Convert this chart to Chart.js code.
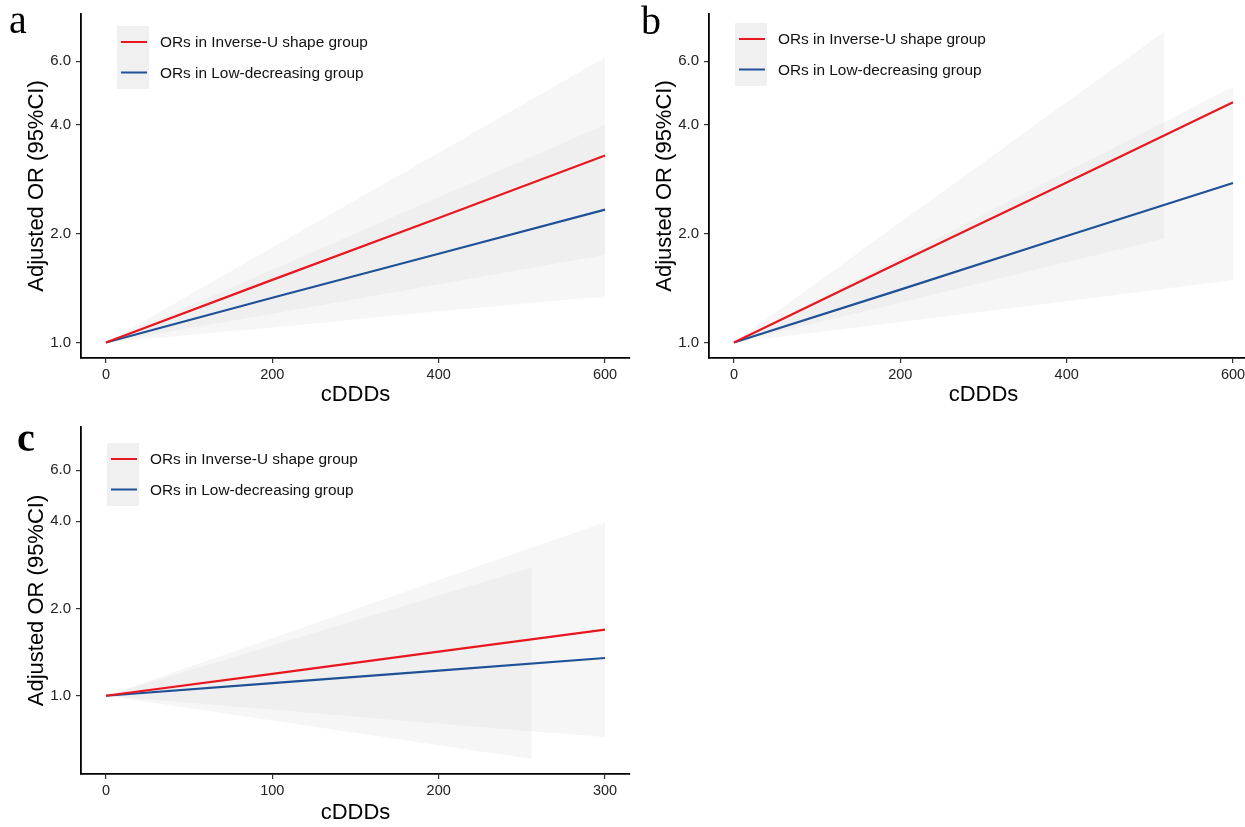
<!DOCTYPE html>
<html>
<head>
<meta charset="utf-8">
<script src="https://cdn.jsdelivr.net/npm/chart.js@4.4.0/dist/chart.umd.min.js"></script>
<style>
  html, body { margin: 0; padding: 0; background: #fff; }
  body { width: 1245px; height: 827px; overflow: hidden; position: relative; }
  canvas { position: absolute; }
  .tag { position: absolute; font-family: 'Liberation Serif', 'Times New Roman', serif; font-size: 40px; line-height: 1; color: #000; }
</style>
</head>
<body>
<canvas id="chartA" width="640" height="410" style="left:0;top:0"></canvas>
<canvas id="chartB" width="640" height="410" style="left:628px;top:0"></canvas>
<canvas id="chartC" width="640" height="417" style="left:0;top:410px"></canvas>
<div class="tag" style="left:9px;top:0px">a</div>
<div class="tag" style="left:641px;top:1px">b</div>
<div class="tag" style="left:17px;top:418px;font-weight:bold">c</div>
<script>
// labels
const redLabel = 'ORs in Inverse-U shape group';
const blueLabel = 'ORs in Low-decreasing group';
const yTicks = [1, 2, 4, 6];

// panel a (cDDDs 0-600)
const xA = [0, 200, 400, 600];
const redA = [1.0, 1.49, 2.21, 3.29];
const redLoA = [1.0, 1.20, 1.45, 1.75];
const redHiA = [1.0, 1.83, 3.35, 6.14];
const blueA = [1.0, 1.33, 1.76, 2.33];
const blueLoA = [1.0, 1.10, 1.22, 1.34];
const blueHiA = [1.0, 1.59, 2.52, 4.0];
const xTicksA = [0, 200, 400, 600];

// panel b (red CI stops at ~517)
const xB = [0, 200, 400, 600];
const redB = [1.0, 1.67, 2.77, 4.62];
const blueB = [1.0, 1.40, 1.97, 2.76];
const xRedBandB = [0, 200, 400, 517];
const redLoB = [1.0, 1.29, 1.67, 1.94];
const redHiB = [1.0, 2.15, 4.62, 7.23];
const blueLoB = [1.0, 1.14, 1.30, 1.49];
const blueHiB = [1.0, 1.72, 2.96, 5.1];
const xTicksB = [0, 200, 400, 600];

// panel c (cDDDs 0-300, blue CI stops at ~256)
const xC = [0, 100, 200, 300];
const redC = [1.0, 1.19, 1.42, 1.69];
const blueC = [1.0, 1.105, 1.22, 1.35];
const redLoC = [1.0, 0.896, 0.80, 0.72];
const redHiC = [1.0, 1.58, 2.51, 3.97];
const xBlueBandC = [0, 100, 200, 256];
const blueLoC = [1.0, 0.822, 0.675, 0.605];
const blueHiC = [1.0, 1.49, 2.22, 2.77];
const xTicksC = [0, 100, 200, 300];

const FONT = "'Liberation Sans', Arial, Helvetica, sans-serif";
const RED = '#e8171f';
const BLUE = '#1f5196';
const BAND = 'rgba(190,190,190,0.14)';

function pts(xs, ys) {
    return xs.map((x, i) => ({ x: x, y: ys[i] }));
}

function lineSet(label, xs, ys, color) {
    return { label: label, data: pts(xs, ys), borderColor: color, borderWidth: 2.2,
        pointRadius: 0, fill: false, tension: 0, order: 0, inLegend: true };
}

function bandSets(label, xs, hi, lo) {
    const base = { borderColor: 'rgba(0,0,0,0)', borderWidth: 0, pointRadius: 0, tension: 0, order: 2 };
    return [
        Object.assign({ label: label + ' upper', data: pts(xs, hi), fill: '+1', backgroundColor: BAND }, base),
        Object.assign({ label: label + ' lower', data: pts(xs, lo), fill: false }, base)
    ];
}

// ggplot-like legend drawn inside the panel
const keyLegend = {
    id: 'keyLegend',
    afterDraw(chart, args, opts) {
        const ctx = chart.ctx;
        const items = chart.data.datasets.filter(d => d.inLegend);
        ctx.save();
        ctx.fillStyle = '#f0f0f0';
        ctx.fillRect(opts.x, opts.y, 32, 63);
        items.forEach((d, i) => {
            const cy = opts.y + 16 + i * 30.5;
            ctx.strokeStyle = d.borderColor;
            ctx.lineWidth = 2;
            ctx.beginPath();
            ctx.moveTo(opts.x + 4, cy);
            ctx.lineTo(opts.x + 30, cy);
            ctx.stroke();
            ctx.fillStyle = '#111';
            ctx.font = '15.4px ' + FONT;
            ctx.textBaseline = 'middle';
            ctx.fillText(d.label, opts.x + 43, cy + 1);
        });
        ctx.restore();
    }
};

function makePanel(id, datasets, p) {
    const c = document.getElementById(id);
    return new Chart(c.getContext('2d'), {
        type: 'line',
        data: { datasets: datasets },
        plugins: [keyLegend],
        options: {
            responsive: false,
            animation: false,
            devicePixelRatio: 1,
            layout: { padding: { left: 0, top: p.top, right: p.right, bottom: 0 } },
            plugins: {
                legend: { display: false },
                tooltip: { enabled: false },
                keyLegend: { x: p.legX, y: p.legY }
            },
            scales: {
                x: {
                    type: 'linear', min: p.xMin, max: p.xMax, bounds: 'data',
                    afterBuildTicks: s => { s.ticks = p.xTicks.map(v => ({ value: v })); },
                    afterFit: s => { s.height = p.xHeight; },
                    ticks: { callback: v => String(v), font: { family: FONT, size: 14.5 }, color: '#222',
                        padding: 3, autoSkip: false, maxRotation: 0 },
                    grid: { display: true, drawOnChartArea: false, drawTicks: true, tickLength: 5, color: '#333', lineWidth: 1.2 },
                    border: { display: true, color: '#000', width: 1.8 },
                    title: { display: true, text: 'cDDDs', font: { family: FONT, size: 22 }, color: '#000',
                        padding: { top: 0, bottom: p.xTitlePad } }
                },
                y: {
                    type: 'logarithmic', min: p.yMin, max: p.yMax, bounds: 'data',
                    afterBuildTicks: s => { s.ticks = yTicks.map(v => ({ value: v })); },
                    afterFit: s => { s.width = 81; },
                    ticks: { callback: v => Number(v).toFixed(1), font: { family: FONT, size: 15 }, color: '#222',
                        padding: 5, autoSkip: false },
                    grid: { display: true, drawOnChartArea: false, drawTicks: true, tickLength: 5, color: '#333', lineWidth: 1.2 },
                    border: { display: true, color: '#000', width: 1.8 },
                    title: { display: true, text: 'Adjusted OR (95%CI)', font: { family: FONT, size: 22 }, color: '#000',
                        padding: { top: 24, bottom: 0 } }
                }
            }
        }
    });
}

makePanel('chartA', [
    lineSet(redLabel, xA, redA, RED),
    lineSet(blueLabel, xA, blueA, BLUE),
    ...bandSets(redLabel, xA, redHiA, redLoA),
    ...bandSets(blueLabel, xA, blueHiA, blueLoA)
], { top: 12, right: 10, xHeight: 52, xTitlePad: 2, xMin: -30, xMax: 630, xTicks: xTicksA,
     yMin: 0.906, yMax: 8.1, legX: 117, legY: 26 });

makePanel('chartB', [
    lineSet(redLabel, xB, redB, RED),
    lineSet(blueLabel, xB, blueB, BLUE),
    ...bandSets(redLabel, xRedBandB, redHiB, redLoB),
    ...bandSets(blueLabel, xB, blueHiB, blueLoB)
], { top: 12, right: 10, xHeight: 52, xTitlePad: 2, xMin: -30, xMax: 630, xTicks: xTicksB,
     yMin: 0.906, yMax: 8.1, legX: 107, legY: 23 });

makePanel('chartC', [
    lineSet(redLabel, xC, redC, RED),
    lineSet(blueLabel, xC, blueC, BLUE),
    ...bandSets(redLabel, xC, redHiC, redLoC),
    ...bandSets(blueLabel, xBlueBandC, blueHiC, blueLoC)
], { top: 17, right: 10, xHeight: 53, xTitlePad: 1, xMin: -15, xMax: 315, xTicks: xTicksC,
     yMin: 0.537, yMax: 8.46, legX: 107, legY: 443 - 410 });
</script>
</body>
</html>
